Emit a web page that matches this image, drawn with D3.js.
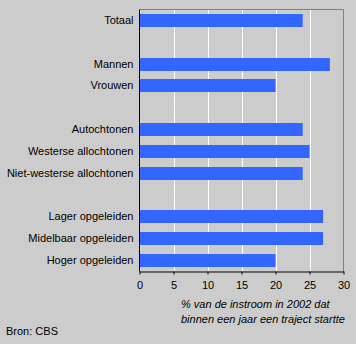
<!DOCTYPE html>
<html><head><meta charset="utf-8">
<script src="https://cdn.jsdelivr.net/npm/d3@7"></script>
<style>
html,body{margin:0;padding:0;background:#cccccc;}
svg{display:block;}
text{font-family:"Liberation Sans",Arial,sans-serif;font-size:11px;fill:#000;}
</style></head>
<body>
<svg id="c" width="356" height="344"></svg>
<script>
const categories = ["Totaal","gap1","Mannen","Vrouwen","gap2","Autochtonen","Westerse allochtonen","Niet-westerse allochtonen","gap3","Lager opgeleiden","Midelbaar opgeleiden","Hoger opgeleiden"];
const values = [24,null,28,20,null,24,25,24,null,27,27,20];
const xTicks = [0,5,10,15,20,25,30];
const axisTitle = ["% van de instroom in 2002 dat","binnen een jaar een traject startte"];
const source = "Bron: CBS";

(function(){
const svg = d3.select("#c");
const pL = 139.5, pR = 343.5, pT = 9.5, pB = 271.5;
const x = d3.scaleLinear().domain([0,30]).range([pL,pR]);
const y = d3.scaleBand().domain(categories).range([pT,pB]).paddingInner(0.4).paddingOuter(0.2);

svg.append("rect").attr("width",356).attr("height",344).attr("fill","#cccccc");

// gridlines
svg.append("g").selectAll("line").data(xTicks.filter(t=>t>0&&t<30)).join("line")
  .attr("x1",d=>Math.round(x(d))+0.5).attr("x2",d=>Math.round(x(d))+0.5)
  .attr("y1",pT).attr("y2",pB).attr("stroke","#ffffff").attr("stroke-width",1);

// frame top/right
svg.append("path").attr("d",`M${pL},${pT}H${pR}V${pB}`).attr("fill","none").attr("stroke","#808080");

// bars
const data = categories.map((c,i)=>({c,v:values[i]})).filter(d=>d.v!==null);
svg.append("g").selectAll("rect").data(data).join("rect")
  .attr("x",pL+0.5).attr("y",d=>Math.round(y(d.c)))
  .attr("width",d=>x(d.v)-pL-0.5).attr("height",13)
  .attr("fill","#3366ff");

// category labels
svg.append("g").selectAll("text").data(data).join("text")
  .attr("x",133.5).attr("y",d=>Math.round(y(d.c))+6.5).attr("dy","0.35em")
  .attr("text-anchor","end").text(d=>d.c);

// axes
svg.append("line").attr("x1",pL).attr("x2",pL).attr("y1",pT).attr("y2",pB).attr("stroke","#000");
const xa = svg.append("g").attr("transform",`translate(0,${pB})`)
  .call(d3.axisBottom(x).tickValues(xTicks).tickSize(3).tickPadding(7).tickSizeOuter(0));
xa.select(".domain").attr("stroke","#000");
xa.selectAll(".tick line").attr("stroke","#000");
xa.selectAll("text").style("font-family","Liberation Sans, Arial, sans-serif").style("font-size","11px").attr("fill","#000");

// axis title
svg.append("g").selectAll("text").data(axisTitle).join("text")
  .attr("x",181).attr("y",(d,i)=>308+i*15).style("font-style","italic").text(d=>d);

svg.append("text").attr("x",6).attr("y",335).text(source);
})();
</script>
</body></html>
